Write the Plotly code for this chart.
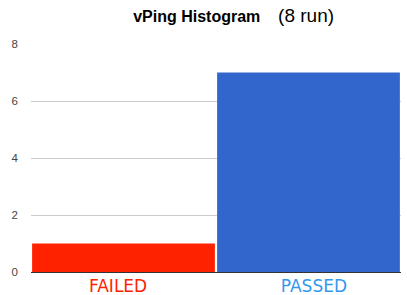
import plotly.graph_objects as go

categories = ["FAILED", "PASSED"]
counts = [1, 7]
bar_colors = ["#ff2200", "#3366cc"]
label_colors = ["#ff2200", "#3399ee"]
label_pad_before = ["", "&nbsp;&nbsp;"]
label_pad_after = ["&nbsp;&nbsp;", ""]
y_ticks = [0, 2, 4, 6, 8]

fig = go.Figure(go.Bar(
    x=categories, y=counts, marker=dict(color=bar_colors, line=dict(width=0)),
    hoverinfo="skip"))

fig.update_layout(
    width=407, height=295,
    margin=dict(l=31, r=6, t=44, b=23, autoexpand=False),
    paper_bgcolor="white", plot_bgcolor="white",
    bargap=0.012,
    showlegend=False,
    title=dict(text="<b>vPing Histogram</b>&nbsp;&nbsp;&nbsp;&nbsp;<span style='font-size:19px'>(8 run)</span>",
               x=0.574, xanchor="center", y=0.945, yanchor="middle",
               font=dict(family="Liberation Sans, Arial", size=16, color="#000")),
    xaxis=dict(
        tickmode="array", tickvals=categories,
        ticktext=[f"{b}<span style='color:{c}'>{t}</span>{a}"
                  for t, c, b, a in zip(categories, label_colors, label_pad_before, label_pad_after)],
        tickfont=dict(family="DejaVu Sans", size=17),
        showgrid=False, showline=False, zeroline=False, ticks="",
        automargin=False, ticklabelstandoff=2,
    ),
    yaxis=dict(
        range=[0, 8], tickvals=y_ticks, ticktext=[str(v) for v in y_ticks],
        tickfont=dict(family="Liberation Sans, Arial", size=11.5, color="#444"),
        showgrid=True, gridcolor="#cccccc", gridwidth=1,
        zeroline=True, zerolinecolor="#333333", zerolinewidth=1,
        ticks="", ticklabelstandoff=12, automargin=False,
    ),
)

fig.write_html("out.html")
